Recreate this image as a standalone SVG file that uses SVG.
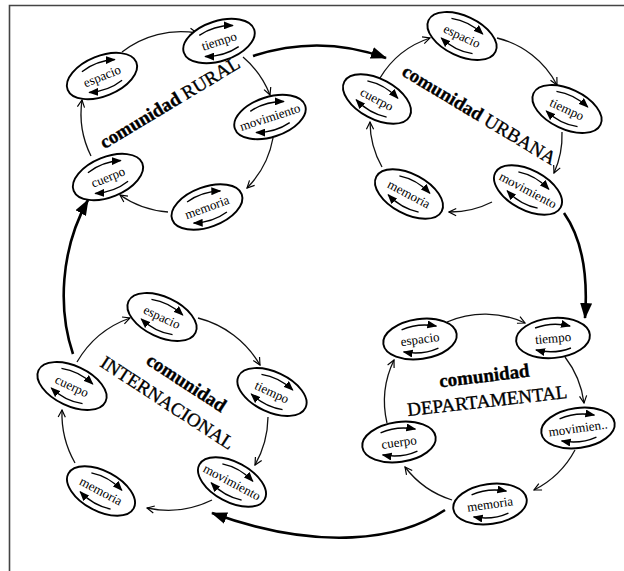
<svg xmlns="http://www.w3.org/2000/svg" xmlns:xlink="http://www.w3.org/1999/xlink" width="624" height="571" viewBox="0 0 624 571">
<style>
.ell{fill:#fff;stroke:#000;stroke-width:1.9}
.in{fill:none;stroke:#000;stroke-width:1.4}
.lbl{font-family:"Liberation Serif","DejaVu Serif",serif;font-size:13px;fill:#000;text-anchor:middle}
.arc{fill:none;stroke:#111;stroke-width:1.3}
.big{fill:none;stroke:#000;stroke-width:2.6}
.ti{font-family:"Liberation Serif","DejaVu Serif",serif;font-size:19px;fill:#000;stroke:#000;stroke-width:0.35;text-anchor:middle}
.b{font-weight:bold}
</style>
<defs>
<marker id="fa" viewBox="0 0 10 8" refX="9" refY="4" markerWidth="10" markerHeight="8" markerUnits="userSpaceOnUse" orient="auto"><path d="M0,0 L10,4 L0,8 z" fill="#000"/></marker>
<marker id="va" viewBox="0 0 10 10" refX="9" refY="5" markerWidth="9" markerHeight="9" markerUnits="userSpaceOnUse" orient="auto"><path d="M1,1 L9,5 L1,9" fill="none" stroke="#000" stroke-width="1.3"/></marker>
<marker id="ba" viewBox="0 0 16 12" refX="15" refY="6" markerWidth="16" markerHeight="12" markerUnits="userSpaceOnUse" orient="auto"><path d="M0,0 L16,6 L0,12 z" fill="#000"/></marker>
<g id="nd">
<ellipse class="ell" cx="0" cy="0" rx="37" ry="20"/>
<path class="in" d="M-17,-11.5 Q0,-16.5 18,-10.5" marker-end="url(#fa)"/>
<path class="in" d="M17,11.5 Q0,16.5 -18,10.5" marker-end="url(#fa)"/>
</g>
</defs>
<rect width="624" height="571" fill="#fff"/>
<path d="M9.5,571 L9.5,5.5 L624,5.5" fill="none" stroke="#444" stroke-width="1.6"/>

<g id="connectors">
<!-- RURAL -->
<path class="arc" d="M122,52 A95,95 0 0 1 197,33" marker-end="url(#va)"/>
<path class="arc" d="M243,57 A95,95 0 0 1 270,95" marker-end="url(#va)"/>
<path class="arc" d="M273,138 A95,95 0 0 1 247,188" marker-end="url(#va)"/>
<path class="arc" d="M168,212 A95,95 0 0 1 120,195" marker-end="url(#va)"/>
<path class="arc" d="M91,156 A95,95 0 0 1 82,100" marker-end="url(#va)"/>
<!-- URBANA -->
<path class="arc" d="M380,78 A92,92 0 0 1 430,38" marker-end="url(#va)"/>
<path class="arc" d="M497,38 A92,92 0 0 1 557,85" marker-end="url(#va)"/>
<path class="arc" d="M562,132 A92,92 0 0 1 554,173" marker-end="url(#va)"/>
<path class="arc" d="M492,202 A92,92 0 0 1 449,212" marker-end="url(#va)"/>
<path class="arc" d="M382,167 A92,92 0 0 1 370,122" marker-end="url(#va)"/>
<!-- INTERNACIONAL -->
<path class="arc" d="M77,362 A100,100 0 0 1 130,318" marker-end="url(#va)"/>
<path class="arc" d="M198,318 A100,100 0 0 1 260,365" marker-end="url(#va)"/>
<path class="arc" d="M268,417 A100,100 0 0 1 255,465" marker-end="url(#va)"/>
<path class="arc" d="M212,500 A100,100 0 0 1 147,508" marker-end="url(#va)"/>
<path class="arc" d="M75,463 A100,100 0 0 1 62,410" marker-end="url(#va)"/>
<!-- DEPARTAMENTAL -->
<path class="arc" d="M447,322 A95,95 0 0 1 525,323" marker-end="url(#va)"/>
<path class="arc" d="M565,357 A95,95 0 0 1 584,403" marker-end="url(#va)"/>
<path class="arc" d="M575,450 A95,95 0 0 1 534,490" marker-end="url(#va)"/>
<path class="arc" d="M452,500 A95,95 0 0 1 405,467" marker-end="url(#va)"/>
<path class="arc" d="M387,423 A95,95 0 0 1 394,360" marker-end="url(#va)"/>
<!-- big -->
<path class="big" d="M253,56 Q320,34 386,58" marker-end="url(#ba)"/>
<path class="big" d="M564,213 Q590,250 585,318" marker-end="url(#ba)"/>
<path class="big" d="M445,510 C400,540 320,552 212,513" marker-end="url(#ba)"/>
<path class="big" d="M73,354 C58,310 60,250 88,200" marker-end="url(#ba)"/>
</g>

<!-- RURAL -->
<g id="rural-espacio" transform="translate(102,76) rotate(-22)"><use xlink:href="#nd"/><text class="lbl" y="4.5">espacio</text></g>
<g id="rural-tiempo" transform="translate(219,41) rotate(-18)"><use xlink:href="#nd"/><text class="lbl" y="4.5">tiempo</text></g>
<g id="rural-movimiento" transform="translate(270,117) rotate(-18)"><use xlink:href="#nd"/><text class="lbl" y="4.5">movimiento</text></g>
<g id="rural-memoria" transform="translate(207,207) rotate(-20)"><use xlink:href="#nd"/><text class="lbl" y="4.5">memoria</text></g>
<g id="rural-cuerpo" transform="translate(108,177) rotate(-22)"><use xlink:href="#nd"/><text class="lbl" y="4.5">cuerpo</text></g>
<g id="rural-title"><text class="ti" transform="translate(173,108) rotate(-31)"><tspan class="b">comunidad</tspan> RURAL</text></g>

<!-- URBANA -->
<g id="urbana-espacio" transform="translate(462,36) rotate(25)"><use xlink:href="#nd"/><text class="lbl" y="4.5">espacio</text></g>
<g id="urbana-tiempo" transform="translate(567,109) rotate(25)"><use xlink:href="#nd"/><text class="lbl" y="4.5">tiempo</text></g>
<g id="urbana-movimiento" transform="translate(528,190) rotate(28)"><use xlink:href="#nd"/><text class="lbl" y="4.5">movimiento</text></g>
<g id="urbana-memoria" transform="translate(409,194) rotate(28)"><use xlink:href="#nd"/><text class="lbl" y="4.5">memoria</text></g>
<g id="urbana-cuerpo" transform="translate(377,99) rotate(28)"><use xlink:href="#nd"/><text class="lbl" y="4.5">cuerpo</text></g>
<g id="urbana-title"><text class="ti" transform="translate(476,120) rotate(31)"><tspan class="b">comunidad</tspan> URBANA</text></g>

<!-- INTERNACIONAL -->
<g id="int-espacio" transform="translate(162,317) rotate(25)"><use xlink:href="#nd"/><text class="lbl" y="4.5">espacio</text></g>
<g id="int-tiempo" transform="translate(272,392) rotate(25)"><use xlink:href="#nd"/><text class="lbl" y="4.5">tiempo</text></g>
<g id="int-movimiento" transform="translate(232,482) rotate(28)"><use xlink:href="#nd"/><text class="lbl" y="4.5">movimiento</text></g>
<g id="int-memoria" transform="translate(101,491) rotate(28)"><use xlink:href="#nd"/><text class="lbl" y="4.5">memoria</text></g>
<g id="int-cuerpo" transform="translate(72,386) rotate(25)"><use xlink:href="#nd"/><text class="lbl" y="4.5">cuerpo</text></g>
<g id="int-title">
<text class="ti b" transform="translate(183,388) rotate(33)">comunidad</text>
<text class="ti" transform="translate(164,408) rotate(33)">INTERNACIONAL</text>
</g>

<!-- DEPARTAMENTAL -->
<g id="dep-espacio" transform="translate(420,339) rotate(-8)"><use xlink:href="#nd"/><text class="lbl" y="4.5">espacio</text></g>
<g id="dep-tiempo" transform="translate(553,338) rotate(-5)"><use xlink:href="#nd"/><text class="lbl" y="4.5">tiempo</text></g>
<g id="dep-movimiento" transform="translate(578,428) rotate(-8)"><use xlink:href="#nd"/><text class="lbl" y="4.5">movimien..</text></g>
<g id="dep-memoria" transform="translate(490,504) rotate(-8)"><use xlink:href="#nd"/><text class="lbl" y="4.5">memoria</text></g>
<g id="dep-cuerpo" transform="translate(399,442) rotate(-8)"><use xlink:href="#nd"/><text class="lbl" y="4.5">cuerpo</text></g>
<g id="dep-title">
<text class="ti b" transform="translate(485,382) rotate(-7)">comunidad</text>
<text class="ti" transform="translate(488,407) rotate(-6.5)">DEPARTAMENTAL</text>
</g>
</svg>
